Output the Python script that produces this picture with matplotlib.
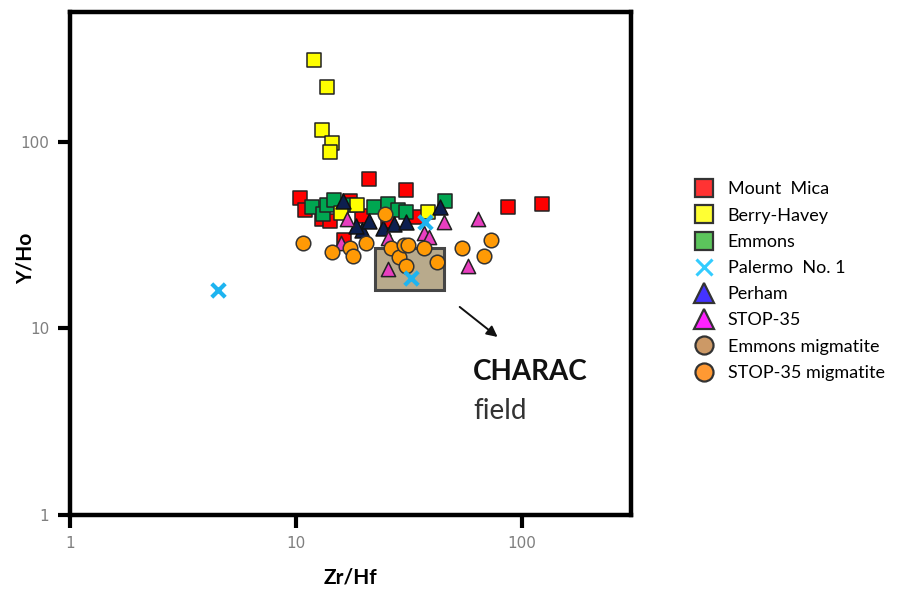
import matplotlib
matplotlib.use("Agg")
import matplotlib.pyplot as plt
from matplotlib.lines import Line2D
from matplotlib.patches import Rectangle
from matplotlib.ticker import FixedLocator, NullLocator, FixedFormatter

# ---- data (Zr/Hf, Y/Ho) ----
mount_mica_x = [10.4, 21.0, 30.9, 86.7, 122.6, 11.0, 13.1, 14.2, 17.4, 19.7, 25.7, 33.9, 16.4]
mount_mica_y = [50.2, 63.4, 55.4, 44.9, 46.6, 42.8, 38.7, 37.8, 48.3, 40.2, 37.8, 39.7, 29.6]

emmons_x = [11.8, 13.2, 13.8, 14.7, 17.3, 22.1, 25.5, 28.2, 30.9, 46.0]
emmons_y = [44.9, 41.2, 45.5, 48.9, 46.0, 44.4, 46.6, 43.3, 42.2, 47.8]

berry_havey_x = [12.0, 13.8, 13.1, 14.5, 14.1, 18.6, 38.3, 15.8]
berry_havey_y = [274.5, 196.8, 115.9, 98.8, 88.4, 46.0, 42.2, 41.7]

palermo_x = [4.53, 37.5, 32.5]
palermo_y = [16.0, 37.3, 18.5]

perham_x = [16.2, 19.7, 21.0, 24.4, 27.1, 30.6, 43.7, 18.4]
perham_y = [47.8, 33.8, 37.8, 34.3, 36.0, 36.9, 44.4, 35.5]

stop35_x = [16.9, 25.7, 36.8, 38.7, 45.1, 63.8, 25.7, 57.6, 15.8]
stop35_y = [38.7, 30.3, 32.6, 30.7, 36.9, 38.7, 20.9, 21.7, 28.8]

emmons_mig_x = []
emmons_mig_y = []

stop35_mig_x = [10.8, 14.4, 17.4, 18.0, 20.5, 24.7, 26.3, 28.5, 30.0, 31.5, 36.8, 30.6, 42.0, 54.7, 67.8, 72.9]
stop35_mig_y = [28.5, 25.5, 27.1, 24.3, 28.8, 41.2, 26.8, 24.0, 27.8, 27.8, 27.1, 21.5, 22.8, 27.1, 24.3, 29.9]

charac_x = [22.5, 45.5]
charac_y = [16.0, 26.8]

x_ticks = [1, 10, 100]
y_ticks = [1, 10, 100]

fig = plt.figure(figsize=(8.97, 5.90), dpi=100)
ax = fig.add_axes([0.078, 0.1271, 0.6255, 0.8526])
ax.set_xscale("log")
ax.set_yscale("log")
ax.set_xlim(1, 305)
ax.set_ylim(1, 495)

# CHARAC field
ax.add_patch(Rectangle((charac_x[0], charac_y[0]), charac_x[1] - charac_x[0],
                       charac_y[1] - charac_y[0], facecolor="#B8AA8C",
                       edgecolor="#454545", linewidth=2.2, zorder=1))

ms = 105
lw = 1.1
ax.scatter(mount_mica_x, mount_mica_y, s=ms, marker="s", c="#FF0000", edgecolors="#222222", linewidths=lw, zorder=3)
ax.scatter(emmons_x, emmons_y, s=ms, marker="s", c="#00A651", edgecolors="#222222", linewidths=lw, zorder=3)
ax.scatter(berry_havey_x, berry_havey_y, s=ms, marker="s", c="#FFFF00", edgecolors="#222222", linewidths=lw, zorder=3)
ax.scatter(perham_x, perham_y, s=ms * 1.1, marker="^", c="#0D1F4F", edgecolors="#111111", linewidths=lw, zorder=3)
ax.scatter(stop35_x, stop35_y, s=ms * 1.0, marker="^", c="#E83EC0", edgecolors="#222222", linewidths=lw, zorder=3)
if emmons_mig_x:
    ax.scatter(emmons_mig_x, emmons_mig_y, s=ms, marker="o", c="#C8946A", edgecolors="#222222", linewidths=lw, zorder=3)
ax.scatter(stop35_mig_x, stop35_mig_y, s=ms * 1.05, marker="o", c="#FF9A05", edgecolors="#333333", linewidths=lw, zorder=3)
ax.scatter(palermo_x, palermo_y, s=ms * 0.9, marker="x", c="#1EB4F0", linewidths=3, zorder=4)

# arrow & label
ax.annotate("", xy=(80, 8.8), xytext=(52, 13.3),
            arrowprops=dict(arrowstyle="-|>", color="#111111", lw=1.4, mutation_scale=16))
ax.text(61.0, 5.82, "CHARAC", fontsize=20, fontweight="bold", family="Lato", color="#111111", va="center", ha="left")
ax.text(61.0, 3.6, "field", fontsize=20, family="Lato", color="#333333", va="center", ha="left")

for s in ax.spines.values():
    s.set_linewidth(3.2)
    s.set_color("black")

ax.xaxis.set_major_locator(FixedLocator(x_ticks))
ax.yaxis.set_major_locator(FixedLocator(y_ticks))
ax.xaxis.set_major_formatter(FixedFormatter([str(v) for v in x_ticks]))
ax.yaxis.set_major_formatter(FixedFormatter([str(v) for v in y_ticks]))
ax.xaxis.set_minor_locator(NullLocator())
ax.yaxis.set_minor_locator(NullLocator())
ax.tick_params(axis="both", which="major", length=9, width=3, direction="out",
               labelsize=11, labelcolor="#7F7F7F", pad=6)

ax.set_xlabel("Zr/Hf", fontsize=15, fontweight="bold", family="Lato", labelpad=12)
ax.set_ylabel("Y/Ho", fontsize=15, fontweight="bold", family="Lato")
ax.yaxis.set_label_coords(-0.062, 0.511)

# legend
leg_labels = ["Mount  Mica", "Berry-Havey", "Emmons", "Palermo  No. 1", "Perham",
              "STOP-35", "Emmons migmatite", "STOP-35 migmatite"]
leg_markers = ["s", "s", "s", "x", "^", "^", "o", "o"]
leg_colors = ["#FF3333", "#FFFF33", "#5CC55C", "#33CCFF", "#4433FF", "#FF22FF", "#CC9966", "#FF9933"]
handles = []
for m, c in zip(leg_markers, leg_colors):
    if m == "x":
        handles.append(Line2D([], [], linestyle="none", marker="x", markersize=11,
                              markeredgecolor=c, markeredgewidth=2.2))
    else:
        handles.append(Line2D([], [], linestyle="none", marker=m,
                              markersize=15 if m == "^" else 13,
                              markerfacecolor=c, markeredgecolor="#333333", markeredgewidth=1.6))
fig.legend(handles, leg_labels, loc="upper left", bbox_to_anchor=(0.755, 0.72),
           frameon=False, labelspacing=0.565, handletextpad=0.7,
           handlelength=1.2, prop={"family": "Lato", "size": 13})

fig.savefig("out.png", dpi=100)
